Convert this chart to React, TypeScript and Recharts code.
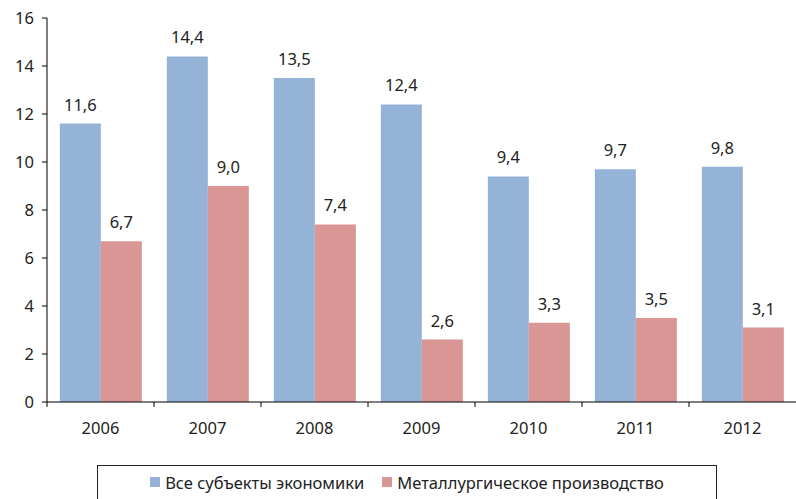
import { BarChart, Bar, XAxis, YAxis, Legend, LabelList } from 'recharts';

const years = ['2006', '2007', '2008', '2009', '2010', '2011', '2012'];
const allSubjects = [11.6, 14.4, 13.5, 12.4, 9.4, 9.7, 9.8];
const metallurgy = [6.7, 9.0, 7.4, 2.6, 3.3, 3.5, 3.1];
const yTicks = [0, 2, 4, 6, 8, 10, 12, 14, 16];

const data = years.map((year, i) => ({
  year,
  all: allSubjects[i],
  metal: metallurgy[i],
}));

const W = 796;
const H = 499;
const AXIS_W = 47;
const BAND = (W - AXIS_W) / years.length;
const FONT = "'Noto Sans', sans-serif";

const fmt = (v: any) => Number(v).toFixed(1).replace('.', ',');

const YearTick = (props: any) => {
  const { x, y, payload } = props;
  return (
    <g>
      <line x1={x - BAND / 2} y1={y} x2={x - BAND / 2} y2={y + 5} stroke="#000" />
      <text x={x} y={y + 25} textAnchor="middle" dominantBaseline="central" fontSize={16.5} fill="#222" fontFamily={FONT}>
        {payload.value}
      </text>
    </g>
  );
};

const LegendBox = () => (
  <div
    style={{
      border: '1px solid #222',
      height: 40,
      boxSizing: 'border-box',
      display: 'flex',
      alignItems: 'center',
      justifyContent: 'center',
      fontFamily: FONT,
      fontSize: 16.5,
      color: '#222',
      paddingBottom: 6,
    }}
  >
    <span style={{ display: 'inline-block', width: 10, height: 10, background: '#95B3D7', marginRight: 5 }} />
    <span style={{ marginRight: 18 }}>Все субъекты экономики</span>
    <span style={{ display: 'inline-block', width: 10, height: 10, background: '#D99694', marginRight: 5 }} />
    <span>Металлургическое производство</span>
  </div>
);

export default function App() {
  return (
    <div style={{ position: 'absolute', left: 0, top: 0, width: W, height: H, background: '#fff', overflow: 'hidden' }}>
      <BarChart
        width={W}
        height={H}
        data={data}
        margin={{ top: 18, right: 0, left: 0, bottom: 27 }}
        barCategoryGap="12%"
        barGap={0}
      >
        <XAxis
          dataKey="year"
          tick={<YearTick />}
          tickLine={false}
          tickSize={0}
          tickMargin={0}
          height={30}
          axisLine={{ stroke: '#000' }}
          interval={0}
        />
        <YAxis
          domain={[0, 16]}
          ticks={yTicks}
          width={AXIS_W}
          tickSize={5}
          tickMargin={8}
          axisLine={{ stroke: '#000' }}
          tickLine={{ stroke: '#000' }}
          tick={{ fontSize: 16.5, fill: '#222', fontFamily: FONT }}
          interval={0}
        />
        <Legend
          content={<LegendBox />}
          wrapperStyle={{ left: 97, top: 465, bottom: 'auto', width: 620, height: 40 }}
        />
        <Bar dataKey="all" name="Все субъекты экономики" fill="#95B3D7" isAnimationActive={false}>
          <LabelList dataKey="all" position="top" offset={13} formatter={fmt} fontSize={16.5} fill="#222" fontFamily={FONT} />
        </Bar>
        <Bar dataKey="metal" name="Металлургическое производство" fill="#D99694" isAnimationActive={false}>
          <LabelList dataKey="metal" position="top" offset={13} formatter={fmt} fontSize={16.5} fill="#222" fontFamily={FONT} />
        </Bar>
      </BarChart>
    </div>
  );
}
